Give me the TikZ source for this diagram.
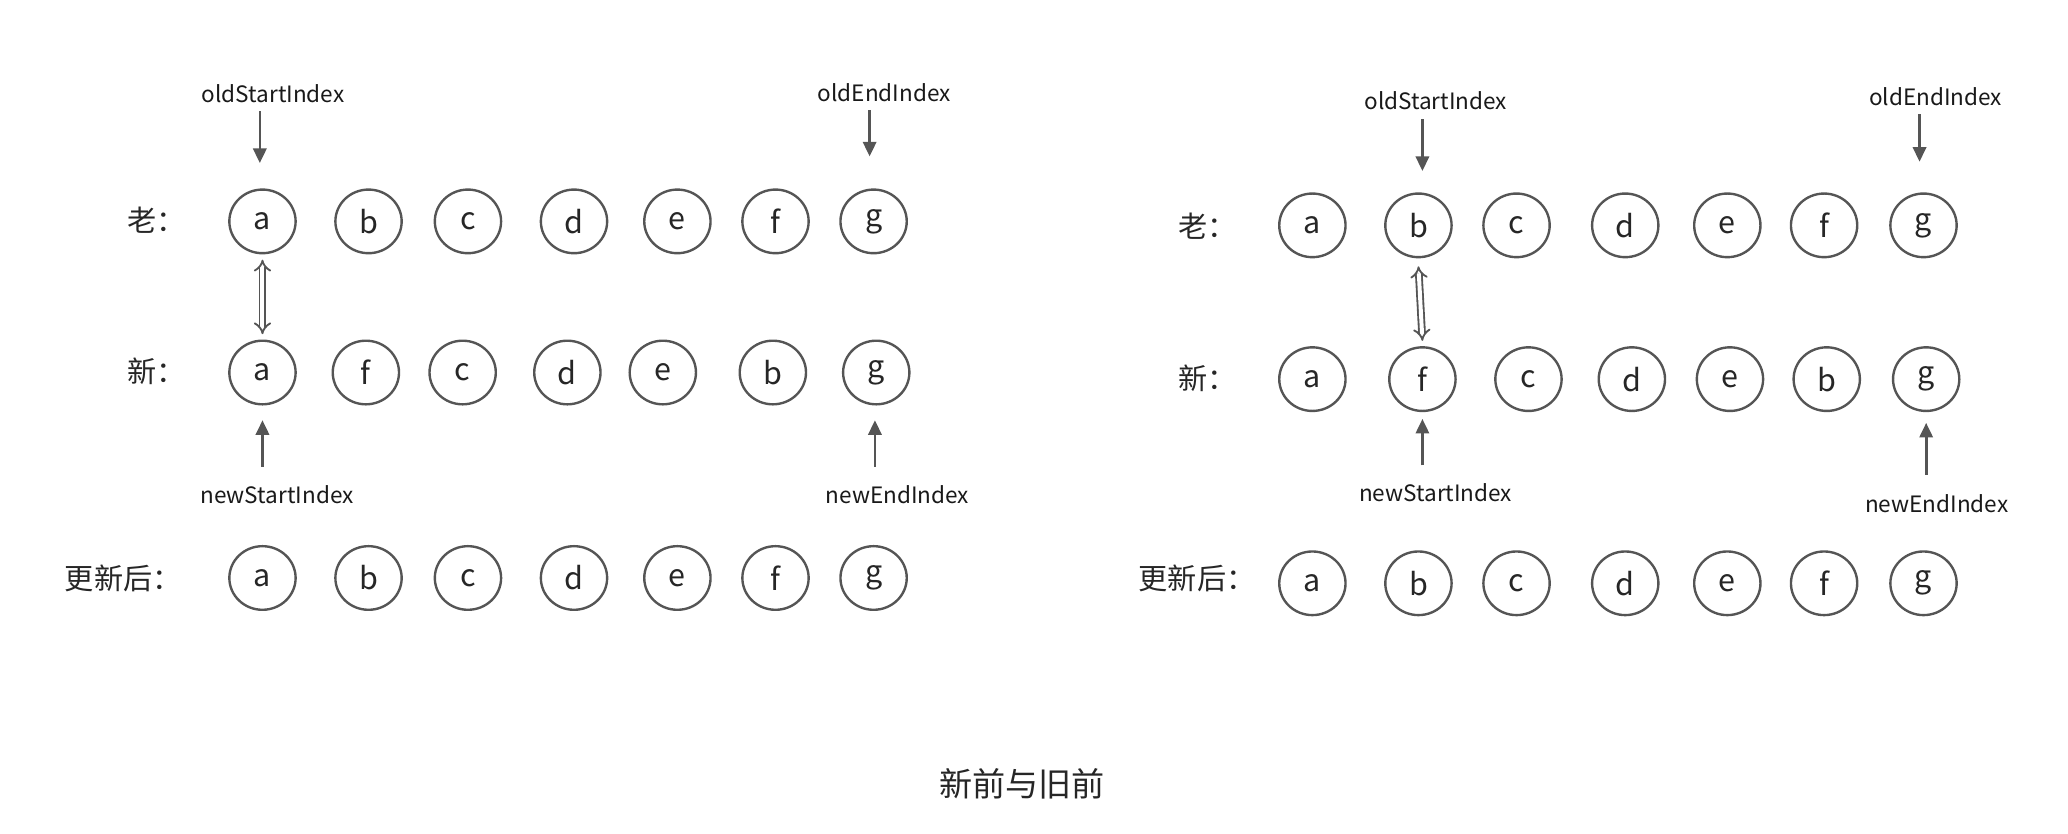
\documentclass[tikz,border=0pt]{standalone}
\usepackage{fontspec}
\setmainfont{Noto Sans CJK SC}
\usetikzlibrary{arrows.meta}
\definecolor{ln}{HTML}{555555}
\tikzset{
 el/.style={draw=ln,line width=1.8pt,ellipse,minimum width=50pt,minimum height=48pt,inner sep=0pt,font=\fontsize{23}{23}\selectfont,text=black!85},
 lab/.style={font=\fontsize{17}{17}\selectfont,text=black!90},
 cn/.style={font=\fontsize{22}{22}\selectfont,text=black!85},
 ptr/.style={draw=ln,line width=2pt,-{Triangle[length=11pt,width=10pt]}},
 dbl/.style={draw=ln,double=white,double distance=3pt,line width=1.4pt,{Implies[length=6pt]}-{Implies[length=6pt]}}
}
\usetikzlibrary{shapes.geometric}
\begin{document}
\begin{tikzpicture}[x=1pt,y=-1pt]
\useasboundingbox (0,0) rectangle (1560,629);
% left panel
\foreach \x/\t [count=\i] in {198/a,278/b,353/c,433/d,511/e,585/f,659/g}
  \node[el] (lo\i) at (\x,167) {\t};
\foreach \x/\t [count=\i] in {198/a,276/f,349/c,428/d,500/e,583/b,661/g}
  \node[el] (ln\i) at (\x,281) {\t};
\foreach \x/\t [count=\i] in {198/a,278/b,353/c,433/d,511/e,585/f,659/g}
  \node[el] (la\i) at (\x,436) {\t};
\node[cn] (l1) at (118,166) {老：};
\node[cn] (l2) at (118,280) {新：};
\node[cn] (l3) at (93,436) {更新后：};
\node[lab] (los) at (206,71) {oldStartIndex};
\node[lab] (loe) at (667,70) {oldEndIndex};
\node[lab] (lns) at (209,373) {newStartIndex};
\node[lab] (lne) at (677,373) {newEndIndex};
\coordinate (p1) at (196,84); \coordinate (q1) at (196,123);
\coordinate (p2) at (656,83); \coordinate (q2) at (656,118);
\coordinate (p3) at (198,352); \coordinate (q3) at (198,317);
\coordinate (p4) at (660,352); \coordinate (q4) at (660,317);
\foreach \k in {1,2,3,4} \draw[ptr] (p\k) -- (q\k);
\draw[dbl] ([yshift=-4pt]lo1.south) -- ([yshift=4pt]ln1.north);
% right panel
\foreach \x/\t [count=\i] in {990/a,1070/b,1144/c,1226/d,1303/e,1376/f,1451/g}
  \node[el] (ro\i) at (\x,170) {\t};
\foreach \x/\t [count=\i] in {990/a,1073/f,1153/c,1231/d,1305/e,1378/b,1453/g}
  \node[el] (rn\i) at (\x,286) {\t};
\foreach \x/\t [count=\i] in {990/a,1070/b,1144/c,1226/d,1303/e,1376/f,1451/g}
  \node[el] (ra\i) at (\x,440) {\t};
\node[cn] (r1) at (911,171) {老：};
\node[cn] (r2) at (911,285) {新：};
\node[cn] (r3) at (903,436) {更新后：};
\node[lab] (ros) at (1083,76) {oldStartIndex};
\node[lab] (roe) at (1460,73) {oldEndIndex};
\node[lab] (rns) at (1083,372) {newStartIndex};
\node[lab] (rne) at (1461,380) {newEndIndex};
\coordinate (s1) at (1073,90); \coordinate (t1) at (1073,129);
\coordinate (s2) at (1448,86); \coordinate (t2) at (1448,122);
\coordinate (s3) at (1073,351); \coordinate (t3) at (1073,316);
\coordinate (s4) at (1453,358); \coordinate (t4) at (1453,319);
\foreach \k in {1,2,3,4} \draw[ptr] (s\k) -- (t\k);
\draw[dbl] ([yshift=-6pt]ro2.south) -- ([yshift=4pt]rn2.north);
\node[font=\fontsize{25}{25}\selectfont,text=black!85] (title) at (771,591) {新前与旧前};
\end{tikzpicture}
\end{document}
